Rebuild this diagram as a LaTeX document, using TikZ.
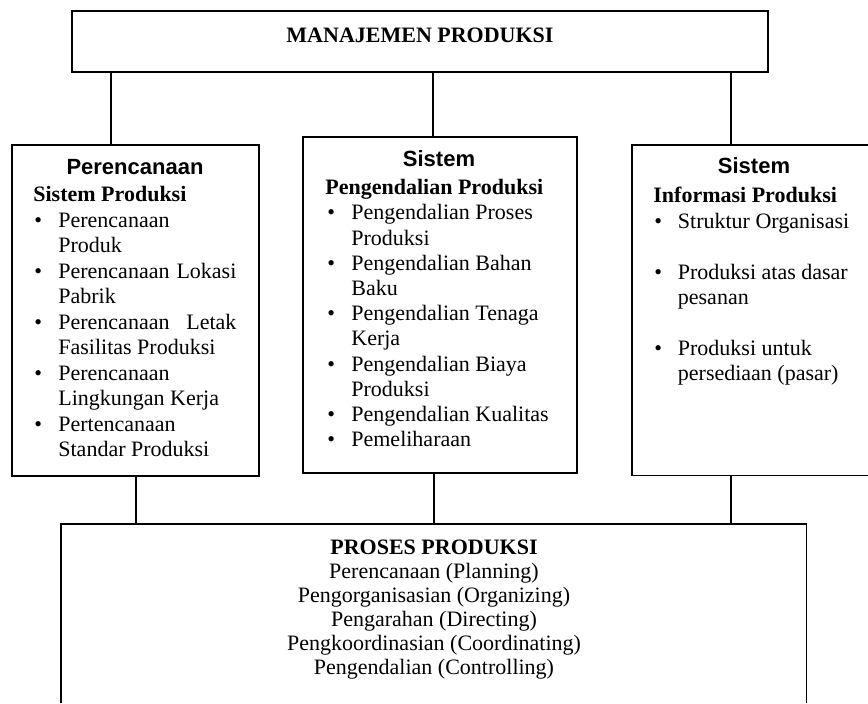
\documentclass[tikz,border=0pt]{standalone}
\usepackage{fontspec}
\setmainfont{Liberation Serif}
\newfontfamily\headsans{Liberation Sans}
\newcommand\lbul[2]{\hspace*{#1}\makebox[#2][l]{\textbullet}}
\begin{document}
\begin{tikzpicture}[x=0.5pt,y=-0.5pt,
  frame/.style={draw=black, line width=0.9pt, rectangle, inner sep=0pt},
  hidden/.style={rectangle, inner sep=0pt},
  conn/.style={draw=black, line width=0.8pt},
  openframe/.style={draw=black, line width=0.9pt},
  head/.style={inner sep=0pt, anchor=base, font=\headsans\bfseries\fontsize{11}{13}\selectfont},
  list/.style={inner sep=0pt, anchor=north west, align=left}
]
\useasboundingbox (0,0) rectangle (868,703);
\fill[white] (0,0) rectangle (868,703);

% boxes
\node[frame, minimum width=348pt, minimum height=30.5pt] (top) at (420,41.5) {};
\node[inner sep=0pt, anchor=base, font=\bfseries\fontsize{11}{12}\selectfont] (toptitle) at (420,42) {MANAJEMEN PRODUKSI};

\node[frame, minimum width=123.5pt, minimum height=165.5pt] (lbox) at (135.5,310.5) {};
\node[frame, minimum width=137pt, minimum height=168pt] (mbox) at (440,305) {};
\node[hidden, minimum width=118pt, minimum height=165pt] (rbox) at (750,310) {};
\draw[openframe] (rbox.north east) -- (rbox.north west) -- (rbox.south west) -- (rbox.south east);
\node[hidden, minimum width=372.5pt, minimum height=89.5pt] (bot) at (433.5,613.5) {};
\draw[openframe] (bot.south west) -- (bot.north west) -- (bot.north east) -- (bot.south east);

% connectors
\coordinate (u1) at (111,0);
\coordinate (u2) at (433,0);
\coordinate (u3) at (731,0);
\coordinate (d1) at (136,0);
\coordinate (d2) at (434,0);
\coordinate (d3) at (731,0);
\draw[conn] (top.south -| u1) -- (lbox.north -| u1);
\draw[conn] (top.south -| u2) -- (mbox.north -| u2);
\draw[conn] (top.south -| u3) -- (rbox.north -| u3);
\draw[conn] (lbox.south -| d1) -- (bot.north -| d1);
\draw[conn] (mbox.south -| d2) -- (bot.north -| d2);
\draw[conn] (rbox.south -| d3) -- (bot.north -| d3);

% left box text
\node[head] (lhead) at (135,174) {Perencanaan};
\node[list, font=\fontsize{11}{12.75}\selectfont] (llist) at (33,186) {%
\textbf{Sistem Produksi}\\
\lbul{0.5pt}{12pt}Perencanaan\\
\hspace*{12.5pt}Produk\\
\lbul{0.5pt}{12pt}\makebox[89pt][s]{Perencanaan Lokasi}\\
\hspace*{12.5pt}Pabrik\\
\lbul{0.5pt}{12pt}\makebox[89pt][s]{Perencanaan Letak}\\
\hspace*{12.5pt}Fasilitas Produksi\\
\lbul{0.5pt}{12pt}Perencanaan\\
\hspace*{12.5pt}Lingkungan Kerja\\
\lbul{0.5pt}{12pt}Pertencanaan\\
\hspace*{12.5pt}Standar Produksi};

% middle box text
\node[head] (mhead) at (439,166) {Sistem};
\node[list, font=\fontsize{11}{12.6}\selectfont] (mlist) at (325,179) {%
\textbf{Pengendalian Produksi}\\
\lbul{1pt}{12pt}Pengendalian Proses\\
\hspace*{13pt}Produksi\\
\lbul{1pt}{12pt}Pengendalian Bahan\\
\hspace*{13pt}Baku\\
\lbul{1pt}{12pt}Pengendalian Tenaga\\
\hspace*{13pt}Kerja\\
\lbul{1pt}{12pt}Pengendalian Biaya\\
\hspace*{13pt}Produksi\\
\lbul{1pt}{12pt}Pengendalian Kualitas\\
\lbul{1pt}{12pt}Pemeliharaan};

% right box text
\node[head] (rhead) at (754,173) {Sistem};
\node[list, font=\fontsize{11}{12.7}\selectfont] (rlist) at (653,187) {%
\textbf{Informasi Produksi}\\
\lbul{0.5pt}{11.75pt}Struktur Organisasi\\[12.7pt]
\lbul{0.5pt}{11.75pt}Produksi atas dasar\\
\hspace*{12.25pt}pesanan\\[12.7pt]
\lbul{0.5pt}{11.75pt}Produksi untuk\\
\hspace*{12.25pt}persediaan (pasar)};

% bottom box text
\node[inner sep=0pt, anchor=north, align=center, font=\fontsize{11}{12}\selectfont] (btext) at (434,540) {%
\textbf{PROSES PRODUKSI}\\
Perencanaan (Planning)\\
Pengorganisasian (Organizing)\\
Pengarahan (Directing)\\
Pengkoordinasian (Coordinating)\\
Pengendalian (Controlling)};
\end{tikzpicture}
\end{document}
